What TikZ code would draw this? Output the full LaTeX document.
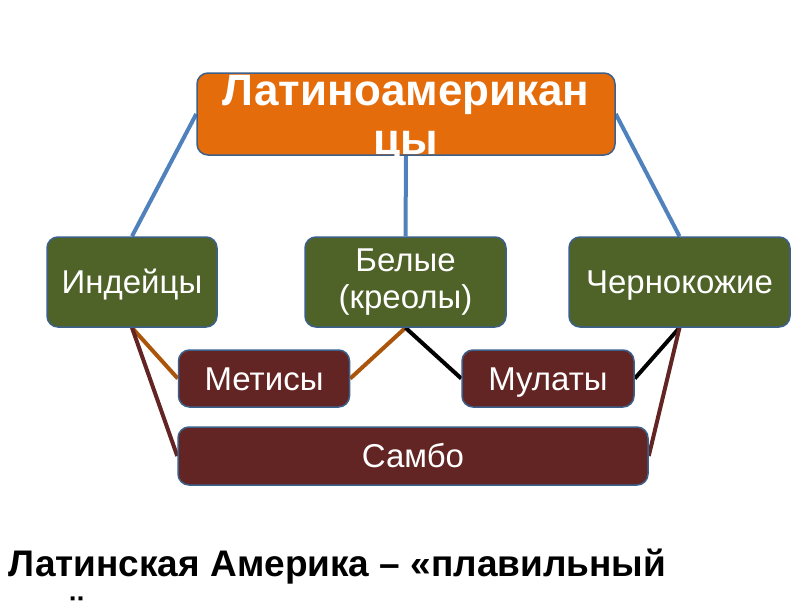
\documentclass[tikz,border=0pt]{standalone}
\usepackage{fontspec}
\setmainfont{Liberation Sans}
\usetikzlibrary{backgrounds}
\definecolor{orfill}{RGB}{228,108,10}
\definecolor{bord}{RGB}{60,96,140}
\definecolor{grfill}{RGB}{79,98,40}
\definecolor{rdfill}{RGB}{99,37,35}
\definecolor{blueln}{RGB}{79,129,189}
\definecolor{orln}{RGB}{170,85,10}
\definecolor{rdln}{RGB}{99,37,35}
\begin{document}
\begin{tikzpicture}[x=1pt,y=-1pt,
  box/.style={draw=bord, line width=1.5pt, rounded corners=11pt, inner sep=0pt, text=white, align=center},
  greenbox/.style={box, fill=grfill, minimum height=90pt, font=\fontsize{33}{37}\selectfont, text height=23.6pt, text depth=0pt},
  redbox/.style={box, fill=rdfill, minimum height=57pt, font=\fontsize{33}{37}\selectfont, text height=23.6pt, text depth=0pt},
  toptext/.style={text=white, inner sep=0pt, anchor=base, font=\fontsize{44}{49}\selectfont\bfseries},
  bottext/.style={text=black, inner sep=0pt, anchor=base west, font=\fontsize{37}{42}\selectfont\bfseries},
  conn/.style={line width=4pt}
]
\useasboundingbox (0,0) rectangle (800,600);
% top
\node[box, fill=orfill, minimum width=418pt, minimum height=82pt] (top) at (406,114) {};
\node[toptext] (toptxt1) at (406,105) {Латиноамерикан};
\node[toptext] (toptxt2) at (406,154) {цы};
% green
\node[greenbox, minimum width=170pt] (ind) at (132,282) {Индейцы};
\node[greenbox, minimum width=201pt, text height=, text depth=] (bel) at (405.5,282) {Белые\\(креолы)};
\node[greenbox, minimum width=221pt] (che) at (679.5,282) {Чернокожие};
% red
\node[redbox, minimum width=171pt] (met) at (264,378.5) {Метисы};
\node[redbox, minimum width=172pt] (mul) at (548,378.5) {Мулаты};
\node[redbox, minimum width=470pt, minimum height=58pt] (sam) at (413,456) {Самбо};
% connectors
\begin{scope}[on background layer]
\draw[conn, blueln] (top.west) -- (ind.north);
\draw[conn, blueln] (top.east) -- (che.north);
\draw[conn, blueln] (top.south) -- (bel.north);
\draw[conn, orln] (ind.south) -- (met.west);
\draw[conn, orln] (bel.south) -- (met.east);
\draw[conn, black] (bel.south) -- (mul.west);
\draw[conn, black] (che.south) -- (mul.east);
\draw[conn, rdln] (ind.south) -- (sam.west);
\draw[conn, rdln] (che.south) -- (sam.east);
\end{scope}
% bottom caption
\begin{scope}
\clip (0,0) rectangle (800,600);
\node[bottext] (bot1) at (8,576) {Латинская Америка – «плавильный};
\node[bottext] (bot2) at (8,622) {котёл»};
\end{scope}
\end{tikzpicture}
\end{document}
